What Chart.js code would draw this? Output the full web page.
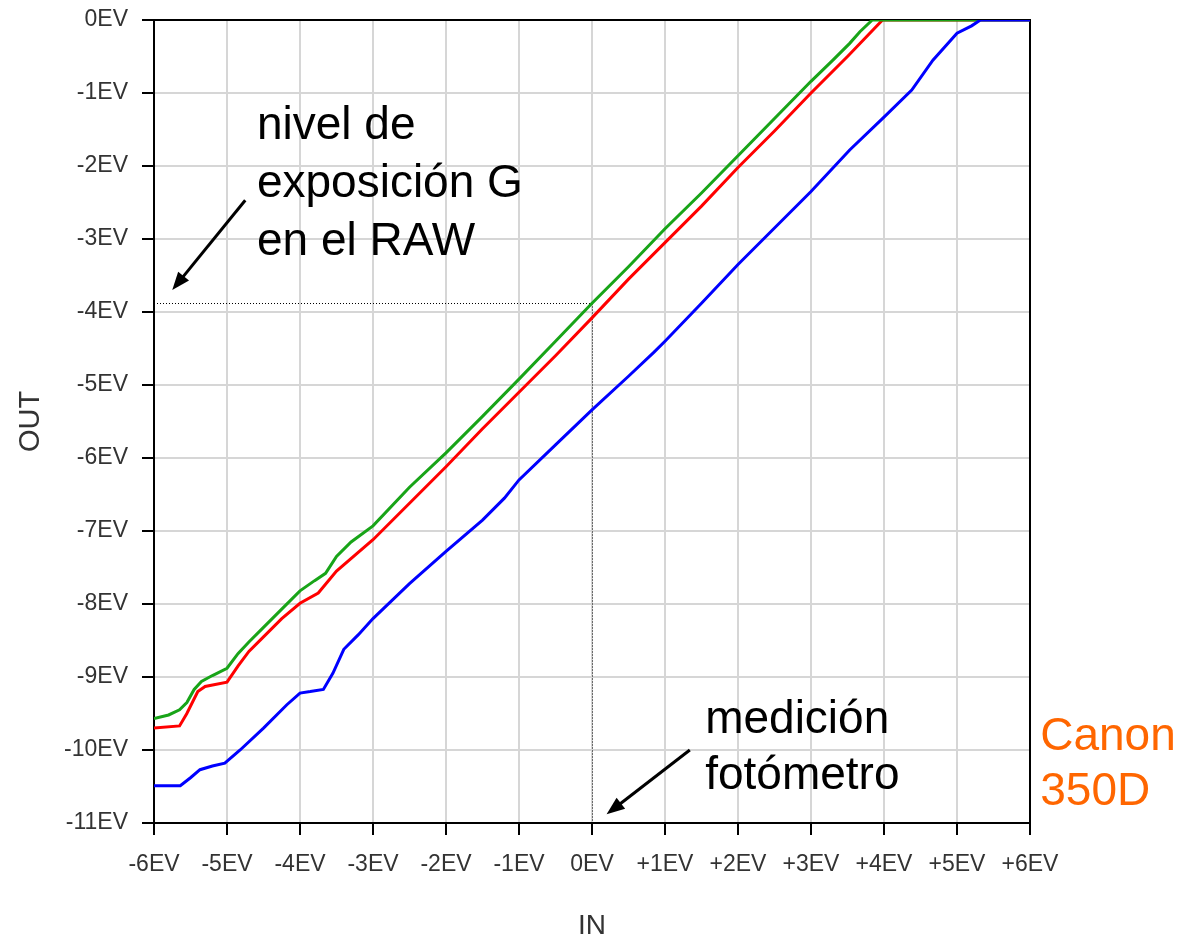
<!DOCTYPE html>
<html>
<head>
<meta charset="utf-8">
<script src="https://cdn.jsdelivr.net/npm/chart.js@4"></script>
<style>
  html, body { margin: 0; padding: 0; background: #fff; }
  #wrap { width: 1183px; height: 943px; }
</style>
</head>
<body>
<div id="wrap"><canvas id="graphCanvas"></canvas></div>
<script>
// Data (EV in -> EV out)
var blueX  = [-6, -5.64, -5.5, -5.37, -5.2, -5.03, -4.82, -4.5, -4.18, -4.0, -3.86, -3.68, -3.55, -3.4, -3.2, -3.0, -2.5, -2.0, -1.5, -1.2, -1.0, -0.5, 0, 0.5, 0.85, 1.0, 1.5, 2.0, 2.5, 3.0, 3.53, 4.0, 4.38, 4.67, 5.0, 5.2, 5.32, 6];
var blueY  = [-10.49, -10.49, -10.38, -10.27, -10.22, -10.18, -10.0, -9.7, -9.38, -9.22, -9.2, -9.17, -8.95, -8.62, -8.42, -8.2, -7.72, -7.28, -6.85, -6.55, -6.3, -5.82, -5.34, -4.88, -4.55, -4.4, -3.88, -3.35, -2.85, -2.35, -1.78, -1.33, -0.96, -0.55, -0.18, -0.08, 0, 0];

var greenX = [-6, -5.8, -5.65, -5.55, -5.45, -5.35, -5.2, -5.0, -4.85, -4.7, -4.5, -4.25, -4.0, -3.8, -3.65, -3.5, -3.3, -3.0, -2.5, -2.0, -1.5, -1.0, -0.5, 0, 0.5, 1.0, 1.5, 2.0, 2.5, 3.0, 3.3, 3.53, 3.67, 3.84, 6];
var greenY = [-9.57, -9.52, -9.45, -9.35, -9.17, -9.06, -8.98, -8.88, -8.68, -8.52, -8.32, -8.07, -7.82, -7.68, -7.58, -7.35, -7.15, -6.93, -6.4, -5.93, -5.43, -4.92, -4.4, -3.88, -3.38, -2.86, -2.37, -1.86, -1.35, -0.84, -0.55, -0.32, -0.16, 0, 0];

var redX   = [-6, -5.65, -5.55, -5.4, -5.3, -5.0, -4.85, -4.7, -4.5, -4.25, -4.0, -3.75, -3.5, -3.0, -2.5, -2.0, -1.5, -1.0, -0.5, 0, 0.5, 1.0, 1.5, 2.0, 2.5, 3.0, 3.5, 3.98, 6];
var redY   = [-9.70, -9.67, -9.5, -9.2, -9.13, -9.07, -8.85, -8.65, -8.45, -8.2, -7.99, -7.85, -7.55, -7.12, -6.62, -6.12, -5.6, -5.1, -4.6, -4.08, -3.55, -3.05, -2.55, -2.02, -1.52, -1.0, -0.5, 0, 0];

var xTickLabels = ['-6EV', '-5EV', '-4EV', '-3EV', '-2EV', '-1EV', '0EV', '+1EV', '+2EV', '+3EV', '+4EV', '+5EV', '+6EV'];
var yTickLabels = ['-11EV', '-10EV', '-9EV', '-8EV', '-7EV', '-6EV', '-5EV', '-4EV', '-3EV', '-2EV', '-1EV', '0EV'];

// metered point and G level in the RAW
var meterIn = 0;
var rawLevelG = -3.88;

var FONT = '"Liberation Sans", Arial, sans-serif';

function pts(xs, ys) {
  return xs.map(function (x, i) { return { x: x, y: ys[i] }; });
}

// frame, dotted guides, arrows and notes
var notesPlugin = {
  id: 'notes',
  beforeDatasetsDraw: function (chart) {
    var ctx = chart.ctx, a = chart.chartArea;
    var xs = chart.scales.x, ys = chart.scales.y;
    ctx.save();
    ctx.strokeStyle = '#000';
    ctx.lineWidth = 2;
    ctx.strokeRect(a.left, a.top, a.right - a.left, a.bottom - a.top);
    // dotted guides
    ctx.lineWidth = 1;
    ctx.setLineDash([1, 2]);
    var px = Math.round(xs.getPixelForValue(meterIn)) + 0.5;
    var py = Math.round(ys.getPixelForValue(rawLevelG)) + 0.5;
    ctx.beginPath();
    ctx.moveTo(a.left, py); ctx.lineTo(px, py);
    ctx.moveTo(px, py); ctx.lineTo(px, a.bottom);
    ctx.stroke();
    ctx.restore();
  },
  afterDraw: function (chart) {
    var ctx = chart.ctx;
    var xs = chart.scales.x, ys = chart.scales.y;
    function P(x, y) { return [xs.getPixelForValue(x), ys.getPixelForValue(y)]; }
    function arrow(from, to) {
      var a = P(from[0], from[1]), b = P(to[0], to[1]);
      var ang = Math.atan2(b[1] - a[1], b[0] - a[0]);
      var hl = 18, hw = 7;
      ctx.save();
      ctx.strokeStyle = '#000';
      ctx.fillStyle = '#000';
      ctx.lineWidth = 3;
      ctx.beginPath();
      ctx.moveTo(a[0], a[1]);
      ctx.lineTo(b[0] - Math.cos(ang) * hl * 0.8, b[1] - Math.sin(ang) * hl * 0.8);
      ctx.stroke();
      ctx.beginPath();
      ctx.moveTo(b[0], b[1]);
      ctx.lineTo(b[0] - Math.cos(ang) * hl - Math.sin(ang) * hw, b[1] - Math.sin(ang) * hl + Math.cos(ang) * hw);
      ctx.lineTo(b[0] - Math.cos(ang) * hl + Math.sin(ang) * hw, b[1] - Math.sin(ang) * hl - Math.cos(ang) * hw);
      ctx.closePath();
      ctx.fill();
      ctx.restore();
    }
    function text(lines, x, y0, step, color) {
      ctx.save();
      ctx.font = '46px ' + FONT;
      ctx.fillStyle = color;
      ctx.textAlign = 'left';
      ctx.textBaseline = 'alphabetic';
      lines.forEach(function (s, i) {
        var p = P(x, y0 - i * step);
        ctx.fillText(s, p[0], p[1]);
      });
      ctx.restore();
    }
    arrow([-4.75, -2.47], [-5.75, -3.70]);
    arrow([1.34, -10.0], [0.2, -10.88]);
    text(['nivel de', 'exposición G', 'en el RAW'], -4.59, -1.63, 0.795, '#000');
    text(['medición', 'fotómetro'], 1.55, -9.77, 0.76, '#000');
    text(['Canon', '350D'], 6.14, -10.0, 0.76, '#ff6600');
  }
};

var ctx = document.getElementById('graphCanvas').getContext('2d');

var config = {
  type: 'line',
  data: {
    datasets: [
      { label: 'B', data: pts(blueX, blueY), borderColor: '#0000ff', borderWidth: 3, pointRadius: 0, tension: 0, fill: false },
      { label: 'G', data: pts(greenX, greenY), borderColor: '#18a418', borderWidth: 3, pointRadius: 0, tension: 0, fill: false },
      { label: 'R', data: pts(redX, redY), borderColor: '#ff0000', borderWidth: 3, pointRadius: 0, tension: 0, fill: false }
    ]
  },
  options: {
    responsive: true,
    maintainAspectRatio: false,
    animation: false,
    layout: { padding: { top: 20, right: 153, bottom: 0, left: 0 } },
    plugins: { legend: { display: false }, tooltip: { enabled: false } },
    scales: {
      x: {
        type: 'linear',
        position: 'bottom',
        min: -6, max: 6,
        afterFit: function (s) { s.height = 120; s.paddingLeft = 0; s.paddingRight = 0; },
        grid: { color: '#d6d6d6', lineWidth: 2, tickColor: '#000', tickLength: 12, tickWidth: 2 },
        border: { color: '#000', width: 2 },
        ticks: {
          stepSize: 1, padding: 16, color: '#333', maxRotation: 0, autoSkip: false,
          font: { family: FONT, size: 23 },
          callback: function (v) { return xTickLabels[Math.round(v) + 6]; }
        },
        title: { display: true, text: 'IN', color: '#333', font: { family: FONT, size: 28 }, padding: { top: 0, bottom: 0 } }
      },
      y: {
        type: 'linear',
        position: 'left',
        min: -11, max: 0,
        afterFit: function (s) { s.width = 154; s.paddingTop = 0; s.paddingBottom = 0; },
        grid: { color: '#d6d6d6', lineWidth: 2, tickColor: '#000', tickLength: 12, tickWidth: 2 },
        border: { color: '#000', width: 2 },
        ticks: {
          stepSize: 1, padding: 14, color: '#333',
          font: { family: FONT, size: 23 },
          callback: function (v) { return yTickLabels[Math.round(v) + 11]; }
        },
        title: { display: true, text: 'OUT', color: '#333', font: { family: FONT, size: 29 }, padding: { top: 14, bottom: 0 } }
      }
    }
  },
  plugins: [notesPlugin]
};

var graph = new Chart(ctx, config);
</script>
</body>
</html>
